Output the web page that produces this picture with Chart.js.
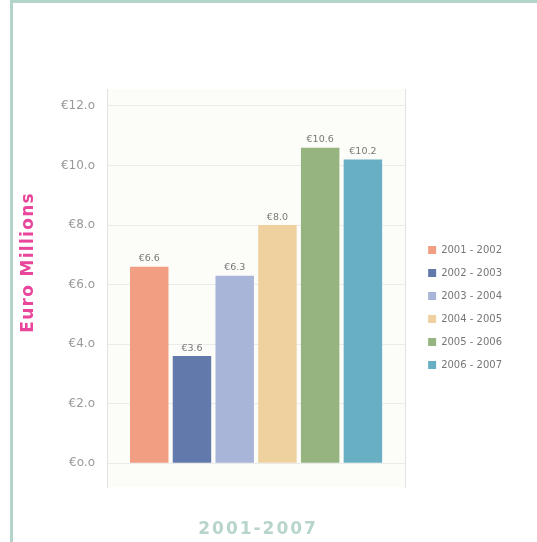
<!DOCTYPE html>
<html>
<head>
<meta charset="utf-8">
<script src="https://cdn.jsdelivr.net/npm/chart.js@4.4.0/dist/chart.umd.min.js"></script>
<style>
body{margin:0;background:#fff;}
#frame{position:absolute;left:10px;top:0;width:527px;height:542px;border-top:3px solid #b3d4c8;border-left:3px solid #b3d4c8;box-sizing:border-box;}
#wrap{position:absolute;left:0;top:0;width:537px;height:542px;}
</style>
</head>
<body>
<div id="frame"></div>
<div id="wrap"><canvas id="bar-chart"></canvas></div>
<script>
var categories = [''];
var seriesNames = ['2001 - 2002', '2002 - 2003', '2003 - 2004', '2004 - 2005', '2005 - 2006', '2006 - 2007'];
var seriesValues = [6.6, 3.6, 6.3, 8.0, 10.6, 10.2];
var seriesColors = ['#f29e82', '#6279ab', '#a9b5d8', '#efd09f', '#96b47f', '#68afc3'];
var tickValues = [0, 2, 4, 6, 8, 10, 12];
var tickLabels = ['€o.o', '€2.o', '€4.o', '€6.o', '€8.o', '€10.o', '€12.o'];
var yTitle = 'Euro Millions';
var xTitle = '2001-2007';

var FONT = '"DejaVu Sans", Verdana, sans-serif';

var datasets = [];
for (var i = 0; i < seriesNames.length; i++) {
	datasets.push({
		label: seriesNames[i],
		data: [seriesValues[i]],
		backgroundColor: seriesColors[i],
		borderWidth: 0,
		categoryPercentage: 0.86,
		barPercentage: 0.9
	});
}

function spacedText(ctx, text, x, y, spacing) {
	ctx.letterSpacing = spacing + 'px';
	// letterSpacing adds space after the last glyph too, shift back half of it
	ctx.fillText(text, x + spacing / 2, y);
	ctx.letterSpacing = '0px';
}

// plot background, value labels and the two axis titles
var extras = {
	id: 'extras',
	beforeDraw: function(chart) {
		var a = chart.chartArea, ctx = chart.ctx;
		ctx.save();
		ctx.fillStyle = '#fcfcf8';
		ctx.fillRect(a.left, a.top, a.right - a.left, a.bottom - a.top);
		ctx.restore();
	},
	afterDatasetsDraw: function(chart) {
		var ctx = chart.ctx;
		ctx.save();
		ctx.font = '9.5px ' + FONT;
		ctx.fillStyle = '#777';
		ctx.textAlign = 'center';
		ctx.textBaseline = 'bottom';
		chart.data.datasets.forEach(function(ds, i) {
			chart.getDatasetMeta(i).data.forEach(function(bar, j) {
				ctx.fillText('€' + ds.data[j].toFixed(1), bar.x, bar.y - 3);
			});
		});
		ctx.restore();
	},
	afterDraw: function(chart) {
		var a = chart.chartArea, ctx = chart.ctx;
		ctx.save();
		ctx.font = 'bold 17px ' + FONT;
		ctx.textAlign = 'center';
		ctx.textBaseline = 'middle';
		ctx.fillStyle = '#b7d5c9';
		spacedText(ctx, xTitle, (a.left + a.right) / 2 + 1, 530, 2);
		ctx.translate(29, (a.top + a.bottom) / 2 - 25);
		ctx.rotate(-Math.PI / 2);
		ctx.fillStyle = '#e8459b';
		spacedText(ctx, yTitle, 0, 0, 1.3);
		ctx.restore();
	}
};

new Chart(document.getElementById('bar-chart'), {
	type: 'bar',
	data: {
		labels: categories,
		datasets: datasets
	},
	plugins: [extras],
	options: {
		responsive: true,
		maintainAspectRatio: false,
		animation: false,
		layout: { padding: { left: 20, top: 89, right: 25, bottom: 0 } },
		plugins: {
			tooltip: { enabled: false },
			legend: {
				position: 'right',
				align: 'start',
				maxWidth: 120,
				title: { display: true, text: ' ', font: { size: 10 }, padding: { top: 131, bottom: 0 } },
				labels: {
					boxWidth: 8,
					boxHeight: 8,
					padding: 13,
					color: '#777',
					font: { size: 10, family: FONT }
				}
			}
		},
		scales: {
			x: {
				grid: { display: false, drawTicks: false },
				border: { display: false },
				ticks: { display: false },
				afterFit: function(s) { s.height = 55; }
			},
			y: {
				min: -0.8,
				max: 12.57,
				afterBuildTicks: function(s) {
					s.ticks = tickValues.map(function(v) { return { value: v }; });
				},
				grid: { color: '#ebebeb', drawTicks: false },
				border: { display: true, color: '#e2e2e2' },
				ticks: {
					padding: 12,
					color: '#999',
					font: { size: 12, family: FONT },
					callback: function(v) { return tickLabels[tickValues.indexOf(v)]; }
				},
				afterFit: function(s) { s.width = 87; }
			},
			y2: {
				position: 'right',
				grid: { display: false, drawTicks: false },
				border: { display: true, color: '#e2e2e2' },
				ticks: { display: false },
				afterFit: function(s) { s.width = 10; }
			}
		}
	}
});
</script>
</body>
</html>
